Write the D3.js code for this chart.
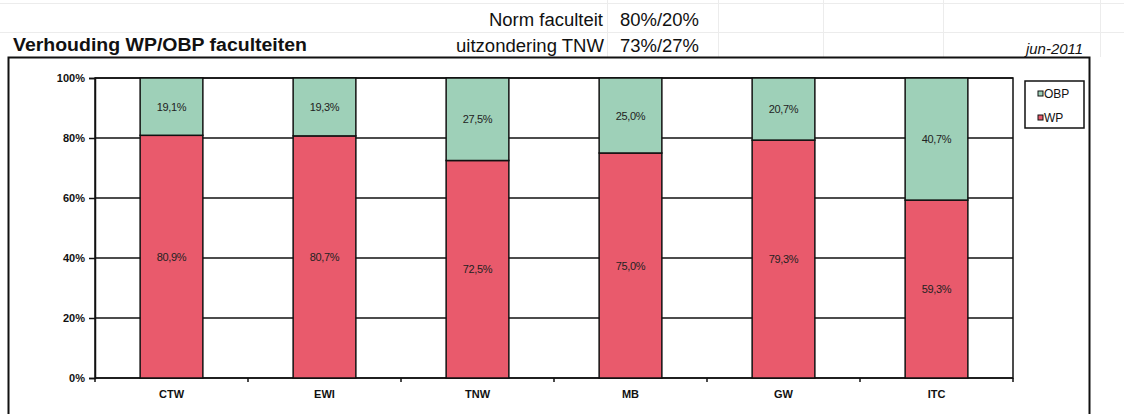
<!DOCTYPE html>
<html><head><meta charset="utf-8">
<script src="https://cdn.jsdelivr.net/npm/d3@7"></script>
<style>body{margin:0;background:#fff;}svg{display:block;font-family:Arial,"Liberation Sans",sans-serif;}</style>
</head><body>
<svg id="c" width="1124" height="414"></svg>
<script>
const categories = ["CTW","EWI","TNW","MB","GW","ITC"];
const wpValues  = [80.9, 80.7, 72.5, 75.0, 79.3, 59.3];
const obpValues = [19.1, 19.3, 27.5, 25.0, 20.7, 40.7];
const yTicks = [0,20,40,60,80,100];
const seriesNames = ["OBP","WP"];
const colors = {WP:"#e95a6c", OBP:"#9ed0b8"};

(function(){
const svg = d3.select("#c");
// faint spreadsheet grid background
const bg = svg.append("g").attr("stroke","#ececec").attr("stroke-width",1);
[3,32].forEach(yy=>bg.append("line").attr("x1",0).attr("x2",1124).attr("y1",yy+0.5).attr("y2",yy+0.5));
[607,718,823,943,1100].forEach(xx=>bg.append("line").attr("x1",xx+0.5).attr("x2",xx+0.5).attr("y1",0).attr("y2",57));

function txt(x0,y0,s,opts){
  const t = svg.append("text").attr("x",x0).attr("y",y0).attr("fill","#111").text(s);
  Object.entries(opts).forEach(([k,v])=>t.attr(k,v));
  return t;
}
// header texts
txt(13,51,"Verhouding WP/OBP faculteiten",{"font-size":18,"font-weight":"bold",textLength:294,lengthAdjust:"spacingAndGlyphs"});
txt(489,26,"Norm faculteit",{"font-size":18,textLength:114,lengthAdjust:"spacingAndGlyphs"});
txt(620,26,"80%/20%",{"font-size":18,textLength:79,lengthAdjust:"spacingAndGlyphs"});
txt(456,52,"uitzondering TNW",{"font-size":18,textLength:148,lengthAdjust:"spacingAndGlyphs"});
txt(620,52,"73%/27%",{"font-size":18,textLength:79,lengthAdjust:"spacingAndGlyphs"});
txt(1026,54,"jun-2011",{"font-size":14,"font-style":"italic",textLength:57,lengthAdjust:"spacingAndGlyphs"});

// chart outer border
svg.append("rect").attr("x",8.5).attr("y",57.5).attr("width",1081).attr("height",370).attr("fill","none").attr("stroke","#111").attr("stroke-width",2);

const pl=95, pr=1013, pt=78, pb=378;
const x = d3.scaleBand().domain(categories).range([pl,pr]).paddingInner(0.59).paddingOuter(0.295);
const y = d3.scaleLinear().domain([0,100]).range([pb,pt]);

// gridlines
const grid = svg.append("g");
yTicks.forEach(t=>grid.append("line").attr("x1",pl).attr("x2",pr).attr("y1",y(t)).attr("y2",y(t)).attr("stroke","#111").attr("stroke-width",1.5));
// plot border
svg.append("rect").attr("x",pl).attr("y",pt).attr("width",pr-pl).attr("height",pb-pt).attr("fill","none").attr("stroke","#111").attr("stroke-width",1.5);

const data = categories.map((c,i)=>({cat:c, WP:wpValues[i], OBP:obpValues[i]}));
const stack = d3.stack().keys(["WP","OBP"])(data);
const fmt = v => v.toFixed(1).replace(".",",")+"%";

const layers = svg.append("g").selectAll("g").data(stack).join("g").attr("fill",d=>colors[d.key]);
layers.selectAll("rect").data(d=>d).join("rect")
  .attr("x",d=>x(d.data.cat)).attr("width",x.bandwidth())
  .attr("y",d=>y(d[1])).attr("height",d=>y(d[0])-y(d[1]))
  .attr("stroke","#111").attr("stroke-width",1.5);
layers.selectAll("text").data(d=>d.map(v=>({v, key:d.key}))).join("text")
  .attr("x",d=>x(d.v.data.cat)+x.bandwidth()/2)
  .attr("y",d=>(y(d.v[0])+y(d.v[1]))/2+4)
  .attr("text-anchor","middle").attr("font-size",11).attr("fill","#222").attr("letter-spacing","-0.3")
  .text(d=>fmt(d.v.data[d.key]));

// y axis
const ya = svg.append("g").attr("transform",`translate(${pl},0)`)
  .call(d3.axisLeft(y).tickValues(yTicks).tickFormat(d=>d+"%").tickSize(6).tickPadding(4));
ya.select(".domain").attr("stroke","#111").attr("stroke-width",1.5);
ya.selectAll(".tick line").attr("stroke","#111").attr("stroke-width",1.5);
ya.selectAll("text").attr("font-size",11).attr("font-weight","bold").attr("fill","#111").attr("font-family","Arial,'Liberation Sans',sans-serif");

// x axis
const xa = svg.append("g").attr("transform",`translate(0,${pb})`)
  .call(d3.axisBottom(x).tickSize(0).tickPadding(12));
xa.select(".domain").remove();
xa.selectAll("text").attr("font-size",11).attr("font-weight","bold").attr("fill","#111").attr("font-family","Arial,'Liberation Sans',sans-serif");
d3.range(categories.length+1).forEach(i=>{
  const xx = pl + i*(pr-pl)/categories.length;
  svg.append("line").attr("x1",xx).attr("x2",xx).attr("y1",pb).attr("y2",pb+4).attr("stroke","#111").attr("stroke-width",1.5);
});

// legend
const lg = svg.append("g").attr("transform","translate(1025,81)");
lg.append("rect").attr("width",59).attr("height",47).attr("fill","#fff").attr("stroke","#111").attr("stroke-width",1.5);
seriesNames.forEach((s,i)=>{
  const g = lg.append("g").attr("transform",`translate(0,${i*24})`);
  g.append("rect").attr("x",13).attr("y",10).attr("width",5).attr("height",5).attr("fill",colors[s]).attr("stroke","#111").attr("stroke-width",1);
  g.append("text").attr("x",19).attr("y",16.5).attr("font-size",12).attr("fill","#111").text(s);
});
})();
</script>
</body></html>
